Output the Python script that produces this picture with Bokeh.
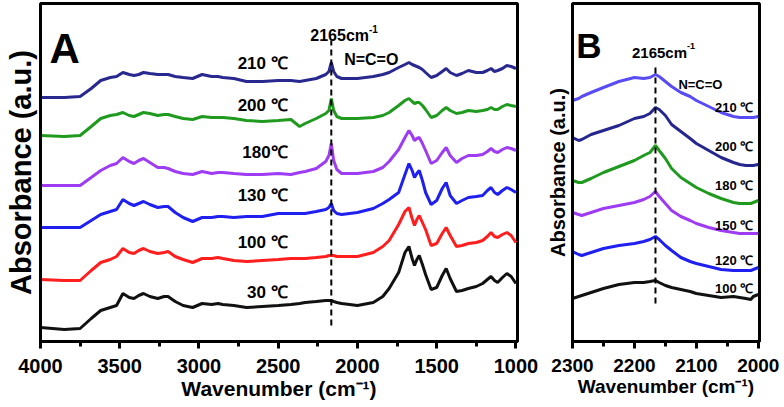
from bokeh.plotting import figure
from bokeh.layouts import row
from bokeh.models import Range1d, FixedTicker, Label
from bokeh.embed import file_html
from bokeh.resources import INLINE

FONT = "Liberation Sans"

# ---------------- Panel A data (wavenumber, absorbance a.u.) ----------------
wn_A = [4000, 3850, 3750, 3680, 3620, 3560, 3520, 3480, 3440, 3410,
        3380, 3350, 3310, 3260, 3220, 3195, 3150, 3100, 3040, 2980,
        2920, 2880, 2850, 2780, 2700, 2600, 2500, 2420, 2365, 2330,
        2260, 2200, 2180, 2165, 2150, 2130, 2100, 2000, 1900, 1840,
        1800, 1740, 1700, 1675, 1655, 1640, 1625, 1610, 1590, 1570,
        1535, 1500, 1465, 1440, 1415, 1375, 1340, 1300, 1250, 1210,
        1180, 1157, 1135, 1115, 1085, 1057, 1030, 1000]

A_210 = [244, 244, 245, 253, 261, 264, 265, 269, 267, 266,
         267, 269, 268, 267, 267, 267, 265, 264, 263, 267,
         265, 265, 264, 263, 260, 260, 261, 261, 260, 261,
         263, 267, 270, 279, 270, 265, 263, 263, 265, 267,
         269, 274, 277, 279, 277, 276, 275, 274, 272, 269,
         264, 266, 270, 273, 269, 266, 268, 271, 269, 269,
         271, 273, 270, 271, 273, 276, 275, 273]

A_200 = [206, 205, 206, 215, 223, 226, 227, 229, 226, 225,
         227, 229, 228, 226, 227, 227, 225, 223, 222, 225,
         224, 224, 224, 223, 221, 220, 221, 222, 215, 218,
         223, 228, 231, 243, 231, 225, 223, 223, 224, 226,
         229, 236, 241, 243, 240, 238, 239, 239, 236, 232,
         224, 226, 231, 234, 231, 228, 229, 231, 230, 231,
         232, 234, 232, 232, 235, 237, 236, 235]

A_180 = [156, 156, 156, 164, 171, 176, 178, 184, 180, 178,
         181, 183, 179, 174, 174, 173, 170, 168, 167, 170,
         168, 169, 169, 168, 167, 167, 168, 167, 169, 170,
         173, 180, 186, 198, 181, 172, 168, 168, 170, 174,
         180, 192, 204, 211, 206, 201, 203, 204, 198, 191,
         178, 181, 189, 194, 186, 179, 183, 186, 186, 187,
         190, 193, 190, 189, 192, 194, 193, 191]

A_130 = [114, 114, 114, 121, 127, 130, 132, 142, 138, 136,
         138, 140, 137, 134, 135, 135, 129, 124, 120, 124,
         124, 125, 125, 124, 125, 125, 128, 128, 128, 128,
         130, 132, 134, 138, 131, 128, 127, 129, 133, 138,
         142, 149, 167, 178, 171, 164, 168, 171, 161, 149,
         137, 141, 153, 159, 146, 138, 141, 144, 145, 146,
         151, 154, 149, 147, 151, 154, 152, 149]

A_100 = [62, 61, 61, 71, 79, 82, 85, 93, 89, 88,
         91, 93, 90, 88, 89, 90, 85, 82, 79, 83,
         83, 84, 83, 81, 80, 81, 82, 83, 83, 83,
         84, 85, 86, 86, 86, 85, 85, 85, 89, 95,
         101, 117, 130, 134, 123, 116, 122, 126, 119, 112,
         96, 98, 108, 114, 106, 95, 96, 98, 99, 101,
         105, 109, 105, 104, 107, 109, 106, 99]

A_30 = [14, 12, 13, 23, 31, 34, 36, 48, 44, 43,
        46, 48, 45, 43, 45, 45, 40, 36, 34, 38,
        37, 38, 37, 36, 34, 35, 36, 37, 38, 39,
        40, 41, 41, 41, 40, 39, 38, 36, 39, 45,
        53, 69, 89, 95, 83, 76, 82, 86, 77, 67,
        52, 54, 66, 73, 63, 50, 51, 53, 55, 58,
        62, 65, 61, 59, 64, 68, 65, 58]

A_labels = ["210 ℃", "200 ℃", "180℃", "130 ℃", "100 ℃", "30 ℃"]
A_label_y = [278, 236, 189, 146, 99, 49]
A_series = [A_210, A_200, A_180, A_130, A_100, A_30]
A_colors = ["#28288f", "#1f9a1f", "#9d3cf2", "#1f1ff0", "#ff1e1e", "#111111"]

# ---------------- Panel B data ----------------
wn_B = [2300, 2290, 2285, 2270, 2250, 2225, 2200, 2185, 2175, 2166,
        2160, 2150, 2140, 2125, 2110, 2100, 2080, 2060, 2040, 2030,
        2020, 2012, 2008, 2000]

B_210 = [241, 243, 245, 249, 254, 260, 264, 263, 264, 267,
         265, 260, 255, 249, 245, 241, 235, 229, 225, 224,
         224, 224, 224, 225]
B_200 = [204, 201, 202, 207, 211, 216, 223, 225, 228, 234,
         232, 226, 217, 210, 203, 198, 191, 184, 179, 177,
         176, 176, 176, 177]
B_180 = [161, 159, 159, 163, 169, 175, 181, 186, 189, 196,
         191, 183, 173, 164, 158, 154, 148, 143, 139, 138,
         138, 138, 139, 141]
B_150 = [129, 127, 126, 129, 133, 136, 139, 142, 145, 150,
         145, 138, 131, 125, 121, 118, 114, 111, 109, 108,
         108, 108, 108, 108]
B_120 = [90, 87, 86, 89, 93, 96, 98, 100, 102, 105,
         102, 96, 91, 84, 80, 78, 75, 72, 71, 71,
         71, 71, 72, 74]
B_100 = [43, 45, 46, 49, 53, 57, 59, 59, 60, 61,
         59, 56, 54, 52, 50, 48, 46, 44, 45, 44,
         43, 42, 45, 47]

B_labels = ["210 ℃", "200 ℃", "180 ℃", "150 ℃", "120 ℃", "100 ℃"]
B_label_y = [234, 195, 156, 116, 81, 53]
B_series = [B_210, B_200, B_180, B_150, B_120, B_100]
B_colors = ["#5a4cf5", "#26268f", "#1f9a1f", "#9d3cf2", "#1f1ff0", "#111111"]

peak_wn = 2165
A_ticks = [4000, 3500, 3000, 2500, 2000, 1500, 1000]
A_minor = [3750, 3250, 2750, 2250, 1750, 1250]
B_ticks = [2300, 2200, 2100, 2000]
B_minor = [2250, 2150, 2050]


def style(p, ticks, minor, tick_size, title_size, ytitle_size, ystandoff):
    p.outline_line_color = "black"
    p.outline_line_width = 3
    p.outline_line_alpha = 1.0
    p.xgrid.visible = False
    p.ygrid.visible = False
    p.background_fill_color = "white"
    p.border_fill_color = "white"
    ax = p.xaxis[0]
    ax.ticker = FixedTicker(ticks=ticks, minor_ticks=minor)
    ax.axis_line_width = 3
    ax.major_tick_line_width = 3
    ax.minor_tick_line_width = 3
    ax.major_tick_in = 0
    ax.major_tick_out = 7
    ax.minor_tick_in = 0
    ax.minor_tick_out = 5
    ax.major_label_text_font = FONT
    ax.major_label_text_font_style = "bold"
    ax.major_label_text_font_size = f"{tick_size}px"
    ax.major_label_text_color = "black"
    ax.major_label_standoff = 10
    ax.axis_label = "Wavenumber (cm⁻¹)"
    ax.axis_label_text_font = FONT
    ax.axis_label_text_font_style = "bold"
    ax.axis_label_text_font_size = f"{title_size}px"
    ax.axis_label_text_color = "black"
    ax.axis_label_standoff = 1
    ay = p.yaxis[0]
    ay.ticker = FixedTicker(ticks=[])
    ay.axis_line_width = 3
    ay.major_tick_out = 0
    ay.major_tick_in = 0
    ay.minor_tick_out = 0
    ay.minor_tick_in = 0
    ay.major_label_standoff = 0
    ay.axis_label = "Absorbance (a.u.)"
    ay.axis_label_text_font = FONT
    ay.axis_label_text_font_style = "bold"
    ay.axis_label_text_font_size = f"{ytitle_size}px"
    ay.axis_label_text_color = "black"
    ay.axis_label_standoff = ystandoff


def txt(p, x, y, s, size, align="left", baseline="alphabetic"):
    p.add_layout(Label(x=x, y=y, text=s, text_font=FONT, text_font_style="bold",
                       text_font_size=f"{size}px", text_color="black",
                       text_align=align, text_baseline=baseline))


# ---------------- Figure A ----------------
pA = figure(width=543, height=406, x_range=Range1d(4000, 990), y_range=Range1d(0, 338),
            output_backend="svg", toolbar_location=None,
            min_border_left=40, min_border_right=26, min_border_top=3, min_border_bottom=65)
style(pA, A_ticks, A_minor, 20, 21, 29, 4)
for ys, c in zip(A_series, A_colors):
    pA.line(wn_A, ys, line_color=c, line_width=3)
pA.line([peak_wn, peak_wn], [16, 301], line_color="black", line_width=2, line_dash="6 4")
for s, yv in zip(A_labels, A_label_y):
    txt(pA, 2440, yv, s, 17, align="right", baseline="middle")
txt(pA, 3943, 293, "A", 42)
txt(pA, 1927, 306, "2165cm", 16, align="right")
txt(pA, 1927, 313, "-1", 10)
txt(pA, 2084, 282, "N=C=O", 16)

# ---------------- Figure B ----------------
pB = figure(width=239, height=406, x_range=Range1d(2300, 1998), y_range=Range1d(0, 338),
            output_backend="svg", toolbar_location=None,
            min_border_left=28, min_border_right=23, min_border_top=3, min_border_bottom=65)
style(pB, B_ticks, B_minor, 19, 19, 20, 4)
for ys, c in zip(B_series, B_colors):
    pB.line(wn_B, ys, line_color=c, line_width=3)
pB.line([2166, 2166], [38, 274], line_color="black", line_width=2, line_dash="6 4")
for s, yv in zip(B_labels, B_label_y):
    txt(pB, 2008, yv, s, 13, align="right", baseline="middle")
txt(pB, 2294, 296, "B", 35)
txt(pB, 2115, 289, "2165cm", 15, align="right")
txt(pB, 2115, 296, "-1", 9)
txt(pB, 2129, 257, "N=C=O", 13)

layout = row(pA, pB)
open("out.html", "w").write(file_html(layout, INLINE))
